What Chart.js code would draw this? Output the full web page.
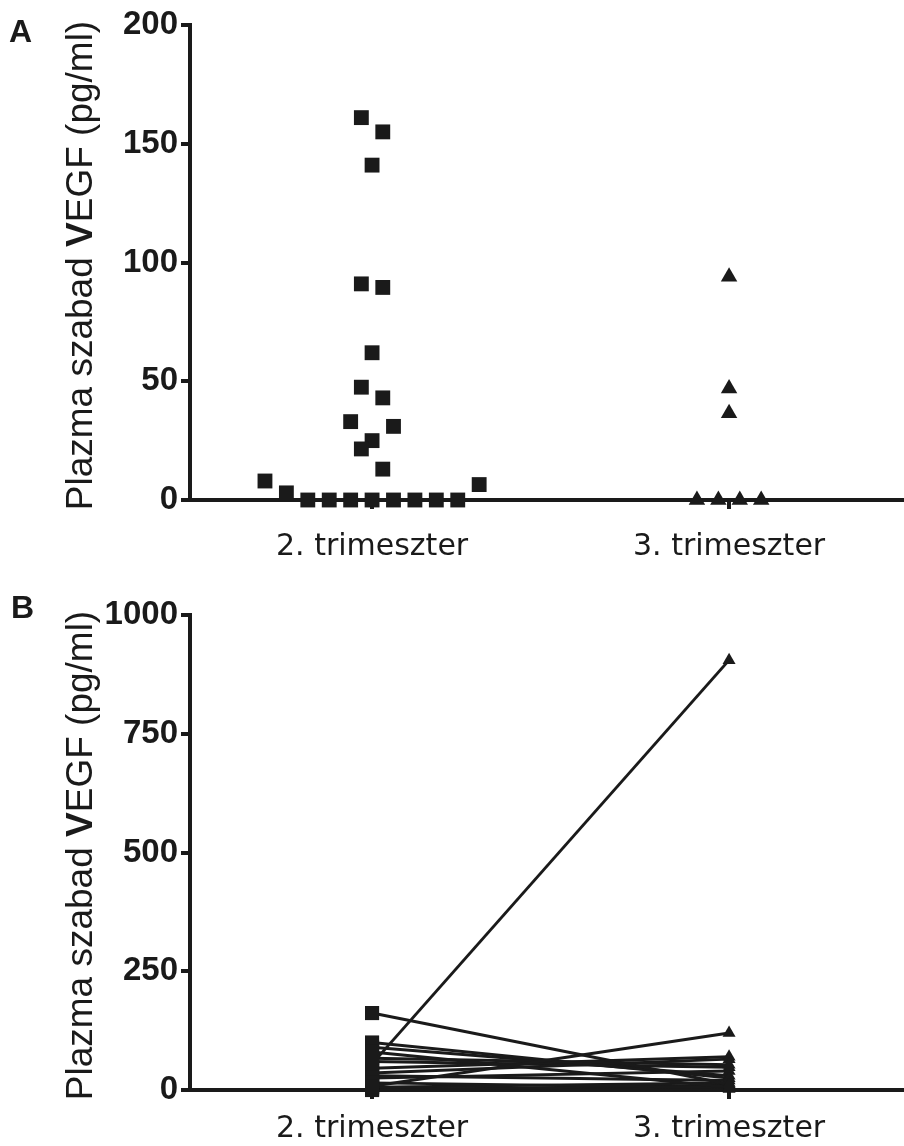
<!DOCTYPE html>
<html>
<head>
<meta charset="utf-8">
<script src="https://cdn.jsdelivr.net/npm/chart.js@4.4.0/dist/chart.umd.min.js"></script>
<style>
  body { margin: 0; background: #fff; }
  canvas { display: block; }
</style>
</head>
<body>
<canvas id="chartA" width="904" height="573"></canvas>
<canvas id="chartB" width="904" height="573"></canvas>
<script>
const groups = ['2. trimeszter', '3. trimeszter'];
const ticksA = [0, 50, 100, 150, 200];
const ticksB = [0, 250, 500, 750, 1000];

// panel A: values, with the column slot each point sits in (GraphPad spread)
const secondA = [161, 155, 141, 91, 89.5, 62, 47.5, 43, 33, 31, 25, 21.5, 13, 8, 3, 0, 0, 0, 0, 0, 0, 0, 0, 6.5];
const secondSlot = [-0.5, 0.5, 0, -0.5, 0.5, 0, -0.5, 0.5, -1, 1, 0, -0.5, 0.5, -5, -4, -3, -2, -1, 0, 1, 2, 3, 4, 5];
const thirdA = [94, 47, 36.5, 0, 0, 0, 0];
const thirdSlot = [0, 0, 0, -1.5, -0.5, 0.5, 1.5];

// panel B: paired samples, 2nd vs 3rd trimester
const secondB = [55, 162, 8, 80, 100, 67, 46, 36, 30, 25, 15, 6, 0, 90, 3, 60];
const thirdB = [905, 12, 120, 6, 25, 53, 70, 65, 20, 40, 5, 15, 10, 30, 2, 48];

const INK = '#1a1a1a';
const SLOT = 0.06;

const yTitle = {
  id: 'yTitle',
  afterDraw(chart, args, opts) {
    const ctx = chart.ctx;
    const area = chart.chartArea;
    const parts = [['Plazma szabad ', false], ['V', true], ['EGF (pg/ml)', false]];
    const size = 37;
    ctx.save();
    ctx.fillStyle = INK;
    ctx.textBaseline = 'middle';
    ctx.textAlign = 'left';
    let total = 0;
    parts.forEach(p => {
      ctx.font = (p[1] ? 'bold ' : '') + size + 'px "Liberation Sans", Arial, sans-serif';
      total += ctx.measureText(p[0]).width;
    });
    ctx.translate(opts.x, (area.top + area.bottom) / 2 + opts.dy);
    ctx.rotate(-Math.PI / 2);
    let pos = -total / 2;
    parts.forEach(p => {
      ctx.font = (p[1] ? 'bold ' : '') + size + 'px "Liberation Sans", Arial, sans-serif';
      ctx.fillText(p[0], pos, 0);
      pos += ctx.measureText(p[0]).width;
    });
    ctx.restore();

    ctx.save();
    ctx.fillStyle = INK;
    ctx.font = 'bold 32px "Liberation Sans", Arial, sans-serif';
    ctx.textBaseline = 'middle';
    ctx.fillText(opts.letter, opts.lx, opts.ly);
    ctx.restore();
  }
};

function scales(yTicks, xPad, xHeight) {
  return {
    x: {
      type: 'linear',
      min: 0.49,
      max: 2.49,
      afterBuildTicks: s => { s.ticks = [{ value: 1 }, { value: 2 }]; },
      afterFit: s => { s.height = xHeight; },
      ticks: {
        callback: v => groups[Math.round(v) - 1],
        color: INK,
        padding: xPad,
        font: { family: '"DejaVu Sans", Verdana, sans-serif', size: 30 }
      },
      grid: { drawOnChartArea: false, drawTicks: true, tickLength: 9, lineWidth: 4, color: INK },
      border: { display: true, width: 4, color: INK }
    },
    y: {
      min: yTicks[0],
      max: yTicks[yTicks.length - 1],
      afterBuildTicks: s => { s.ticks = yTicks.map(v => ({ value: v })); },
      afterFit: s => { s.width = 190; },
      ticks: {
        callback: v => String(v),
        color: INK,
        padding: 3,
        font: { family: '"Liberation Sans", Arial, sans-serif', size: 33, weight: 'bold' }
      },
      grid: { drawOnChartArea: false, drawTicks: true, tickLength: 9, lineWidth: 4, color: INK },
      border: { display: true, width: 4, color: INK }
    }
  };
}

const common = {
  responsive: false,
  animation: false,
  events: [],
  plugins: { legend: { display: false }, tooltip: { enabled: false } }
};

new Chart(document.getElementById('chartA'), {
  type: 'scatter',
  data: {
    datasets: [
      {
        data: secondA.map((v, i) => ({ x: 1 + secondSlot[i] * SLOT, y: v })),
        pointStyle: 'rect',
        pointRadius: 10.5,
        backgroundColor: INK,
        borderColor: INK,
        borderWidth: 0,
        clip: false
      },
      {
        data: thirdA.map((v, i) => ({ x: 2 + thirdSlot[i] * SLOT, y: v })),
        pointStyle: 'triangle',
        pointRadius: 9.5,
        backgroundColor: INK,
        borderColor: INK,
        borderWidth: 0,
        clip: false
      }
    ]
  },
  options: Object.assign({}, common, {
    layout: { autoPadding: false, padding: { top: 25, left: 0, right: 0, bottom: 0 } },
    scales: scales(ticksA, 20, 73),
    plugins: Object.assign({}, common.plugins, {
      yTitle: { x: 82, dy: 3, letter: 'A', lx: 9, ly: 33 }
    })
  }),
  plugins: [yTitle]
});

new Chart(document.getElementById('chartB'), {
  type: 'scatter',
  data: {
    datasets: secondB.map((v, i) => ({
      data: [{ x: 1, y: v }, { x: 2, y: thirdB[i] }],
      showLine: true,
      borderColor: INK,
      borderWidth: 3,
      pointStyle: ['rect', 'triangle'],
      pointRadius: [10, 7.5],
      pointBackgroundColor: INK,
      pointBorderWidth: 0,
      clip: false
    }))
  },
  options: Object.assign({}, common, {
    layout: { autoPadding: false, padding: { top: 42, left: 0, right: 0, bottom: 0 } },
    scales: scales(ticksB, 12, 56),
    plugins: Object.assign({}, common.plugins, {
      yTitle: { x: 82, dy: 3, letter: 'B', lx: 11, ly: 36 }
    })
  }),
  plugins: [yTitle]
});
</script>
</body>
</html>
